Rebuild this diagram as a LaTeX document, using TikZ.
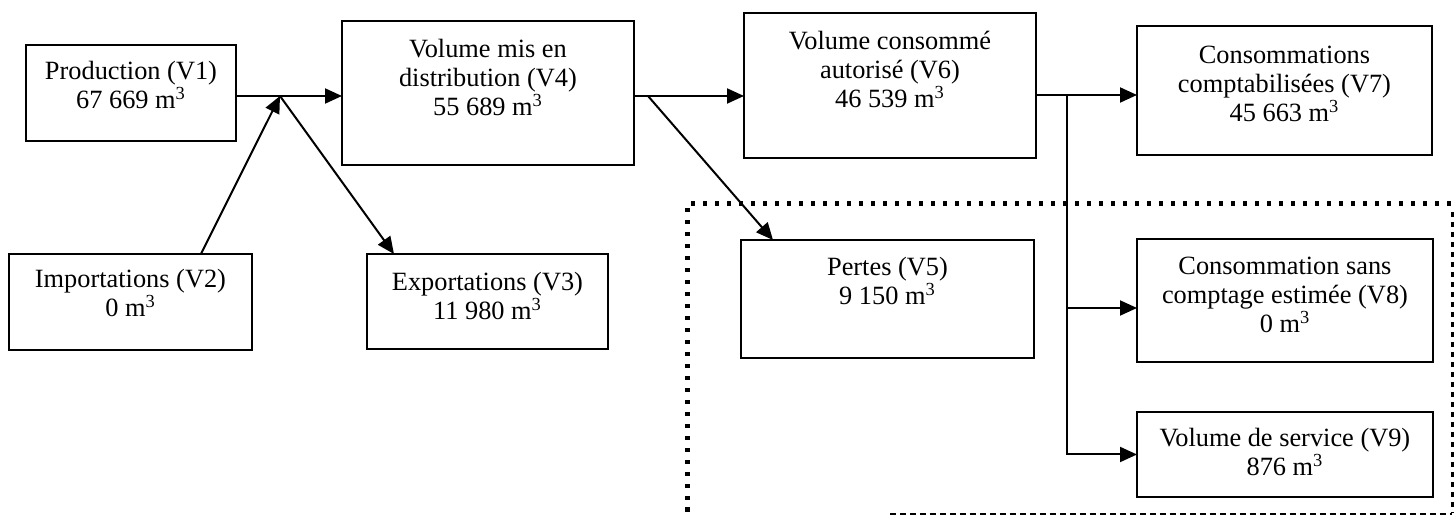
\documentclass[tikz,border=0pt]{standalone}
\usepackage{fontspec}
\setmainfont{Liberation Serif}
\usetikzlibrary{arrows.meta}
\begin{document}
\begin{tikzpicture}[x=0.02cm,y=-0.02cm,
  box/.style={draw,line width=0.05cm,inner sep=0,outer sep=0,anchor=north west},
  lbl/.style={inner sep=0,anchor=north,align=center,font=\fontsize{15}{16.4}\selectfont},
  arr/.style={line width=0.04cm,-{Triangle[length=0.34cm,width=0.3cm]}},
  thickdot/.style={line width=0.1cm,dash pattern=on 0.09cm off 0.15cm},
  meddash/.style={line width=0.06cm,dash pattern=on 0.1cm off 0.1cm},
  thindash/.style={line width=0.035cm,dash pattern=on 0.12cm off 0.08cm}]
\useasboundingbox (0,0) rectangle (1455,516);
% boxes
\node[box,minimum width=4.2cm,minimum height=1.92cm] (v1) at (26,45) {};
\node[box,minimum width=4.86cm,minimum height=1.92cm] (v2) at (9,254) {};
\node[box,minimum width=4.82cm,minimum height=1.9cm] (v3) at (367,254) {};
\node[box,minimum width=5.84cm,minimum height=2.88cm] (v4) at (342,21) {};
\node[box,minimum width=5.86cm,minimum height=2.36cm] (v5) at (741,240) {};
\node[box,minimum width=5.84cm,minimum height=2.9cm] (v6) at (744,13) {};
\node[box,minimum width=5.9cm,minimum height=2.58cm] (v7) at (1137,26) {};
\node[box,minimum width=5.92cm,minimum height=2.46cm] (v8) at (1137,239) {};
\node[box,minimum width=5.92cm,minimum height=1.7cm] (v9) at (1137,412) {};
% labels
\node[lbl] (t1) at ([yshift=-0.32cm]v1.north) {Production (V1)\\67 669 m\textsuperscript{3}};
\node[lbl] (t2) at ([yshift=-0.3cm]v2.north) {Importations (V2)\\0 m\textsuperscript{3}};
\node[lbl] (t3) at ([yshift=-0.36cm]v3.north) {Exportations (V3)\\11 980 m\textsuperscript{3}};
\node[lbl] (t4) at ([yshift=-0.36cm]v4.north) {Volume mis en\\distribution (V4)\\55 689 m\textsuperscript{3}};
\node[lbl] (t5) at ([yshift=-0.34cm]v5.north) {Pertes (V5)\\9 150 m\textsuperscript{3}};
\node[lbl] (t6) at ([yshift=-0.36cm]v6.north) {Volume consommé\\autorisé (V6)\\46 539 m\textsuperscript{3}};
\node[lbl] (t7) at ([yshift=-0.4cm]v7.north) {Consommations\\comptabilisées (V7)\\45 663 m\textsuperscript{3}};
\node[lbl] (t8) at ([yshift=-0.36cm]v8.north) {Consommation sans\\comptage estimée (V8)\\0 m\textsuperscript{3}};
\node[lbl] (t9) at ([yshift=-0.32cm]v9.north) {Volume de service (V9)\\876 m\textsuperscript{3}};
% junctions
\coordinate (j1) at (280,96);
\coordinate (j2) at (648,96);
\coordinate (j3) at (1067,95);
\coordinate (j4) at (1067,308);
% connectors
\draw[arr] (v1.east |- j1) -- (v4.west |- j1);
\draw[arr] ([xshift=1.41cm]v2.north) -- (j1);
\draw[arr] (j1) -- ([xshift=-1.87cm]v3.north);
\draw[arr] (v4.east |- j2) -- (v6.west |- j2);
\draw[arr] (j2) -- ([xshift=-2.29cm]v5.north);
\draw[arr] (v6.east |- j3) -- (v7.west |- j3);
\draw[arr] (j3) |- (v9.west);
\draw[arr] (j4) -- (v8.west |- j4);
% dotted frame
\coordinate (f1) at (687,204);
\coordinate (f2) at (1452,204);
\coordinate (f3) at (687,512);
\coordinate (f4) at (1452,512);
\coordinate (f5) at (890,514);
\coordinate (f6) at (1452,514);
\draw[thickdot] (f3) -- (f1) -- (f2);
\draw[meddash] ([yshift=-0.16cm]f2) -- (f4);
\draw[thindash] (f5) -- (f6);
\end{tikzpicture}
\end{document}
